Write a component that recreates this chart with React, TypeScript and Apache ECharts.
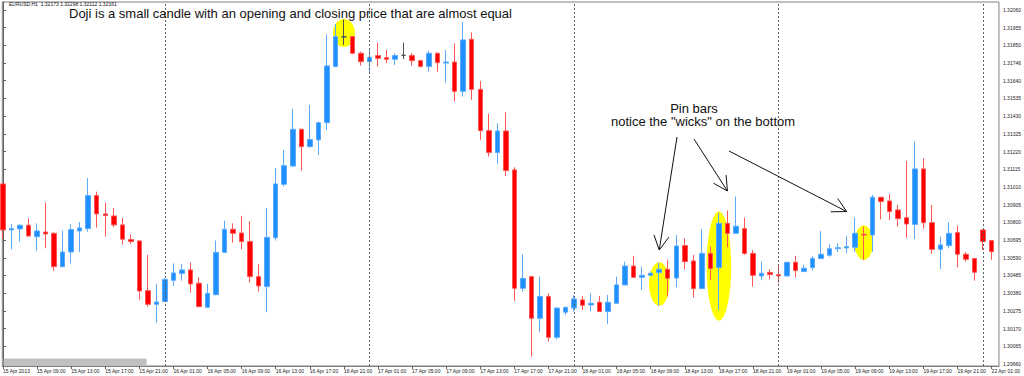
import React, { useEffect, useRef } from "react";
import * as echarts from "echarts";

// OHLC values (EURUSD, H1), one per hourly candle starting 15 Apr 05:00
const open = [
  1.31028, 1.30755, 1.30761, 1.30783, 1.30715, 1.30743, 1.30735, 1.30537, 1.30624, 1.30749,
  1.30763, 1.30959, 1.30850, 1.30838, 1.30785, 1.30698, 1.30690, 1.30395, 1.30314, 1.30330,
  1.30456, 1.30496, 1.30518, 1.30439, 1.30296, 1.30371, 1.30622, 1.30759, 1.30737, 1.30686,
  1.30478, 1.30419, 1.30709, 1.31026, 1.31134, 1.31352, 1.31249, 1.31289, 1.31391, 1.31724,
  1.31900, 1.31902, 1.31803, 1.31753, 1.31789, 1.31777, 1.31767, 1.31791, 1.31789, 1.31759,
  1.31724, 1.31803, 1.31745, 1.31751, 1.31577, 1.31886, 1.31589, 1.31344, 1.31214, 1.31342,
  1.31111, 1.30409, 1.30478, 1.30231, 1.30360, 1.30118, 1.30267, 1.30292, 1.30340, 1.30310,
  1.30326, 1.30271, 1.30320, 1.30429, 1.30541, 1.30474, 1.30486, 1.30502, 1.30522, 1.30470,
  1.30662, 1.30571, 1.30407, 1.30616, 1.30532, 1.30794, 1.30735, 1.30763, 1.30616, 1.30482,
  1.30502, 1.30490, 1.30482, 1.30563, 1.30508, 1.30532, 1.30585, 1.30605, 1.30644, 1.30648,
  1.30652, 1.30729, 1.30725, 1.30949, 1.30927, 1.30874, 1.30828, 1.30788, 1.31117, 1.30798,
  1.30640, 1.30662, 1.30739, 1.30611, 1.30585, 1.30755, 1.30692,
];
const close = [
  1.30755, 1.30763, 1.30783, 1.30719, 1.30749, 1.30731, 1.30537, 1.30624, 1.30757, 1.30767,
  1.30959, 1.30850, 1.30840, 1.30785, 1.30700, 1.30686, 1.30393, 1.30314, 1.30328, 1.30462,
  1.30500, 1.30518, 1.30435, 1.30300, 1.30379, 1.30622, 1.30759, 1.30735, 1.30686, 1.30478,
  1.30423, 1.30711, 1.31028, 1.31136, 1.31352, 1.31249, 1.31291, 1.31391, 1.31728, 1.31902,
  1.31900, 1.31803, 1.31753, 1.31779, 1.31773, 1.31767, 1.31789, 1.31791, 1.31759, 1.31724,
  1.31803, 1.31747, 1.31751, 1.31577, 1.31882, 1.31589, 1.31344, 1.31214, 1.31342, 1.31107,
  1.30409, 1.30468, 1.30231, 1.30360, 1.30118, 1.30292, 1.30296, 1.30346, 1.30308, 1.30320,
  1.30271, 1.30326, 1.30429, 1.30541, 1.30474, 1.30486, 1.30498, 1.30522, 1.30468, 1.30660,
  1.30567, 1.30407, 1.30616, 1.30526, 1.30794, 1.30735, 1.30777, 1.30616, 1.30486, 1.30498,
  1.30490, 1.30482, 1.30563, 1.30514, 1.30528, 1.30585, 1.30611, 1.30644, 1.30650, 1.30656,
  1.30735, 1.30725, 1.30949, 1.30923, 1.30864, 1.30822, 1.30790, 1.31117, 1.30798, 1.30640,
  1.30666, 1.30735, 1.30611, 1.30581, 1.30504, 1.30686, 1.30626,
];
const low = [
  1.30705, 1.30640, 1.30686, 1.30715, 1.30632, 1.30646, 1.30512, 1.30533, 1.30557, 1.30624,
  1.30745, 1.30769, 1.30715, 1.30771, 1.30668, 1.30670, 1.30340, 1.30300, 1.30205, 1.30328,
  1.30423, 1.30454, 1.30383, 1.30296, 1.30294, 1.30367, 1.30620, 1.30680, 1.30640, 1.30443,
  1.30389, 1.30267, 1.30692, 1.31012, 1.31130, 1.31107, 1.31245, 1.31200, 1.31348, 1.31720,
  1.31852, 1.31797, 1.31730, 1.31688, 1.31724, 1.31743, 1.31733, 1.31769, 1.31730, 1.31720,
  1.31694, 1.31694, 1.31629, 1.31516, 1.31546, 1.31526, 1.31289, 1.31190, 1.31146, 1.31075,
  1.30334, 1.30389, 1.30004, 1.30148, 1.30093, 1.30106, 1.30251, 1.30271, 1.30280, 1.30271,
  1.30268, 1.30197, 1.30318, 1.30427, 1.30472, 1.30399, 1.30480, 1.30304, 1.30360, 1.30415,
  1.30522, 1.30354, 1.30405, 1.30458, 1.30280, 1.30652, 1.30733, 1.30607, 1.30419, 1.30458,
  1.30462, 1.30439, 1.30480, 1.30474, 1.30506, 1.30514, 1.30583, 1.30597, 1.30624, 1.30616,
  1.30626, 1.30577, 1.30626, 1.30818, 1.30814, 1.30775, 1.30709, 1.30701, 1.30763, 1.30613,
  1.30522, 1.30646, 1.30533, 1.30567, 1.30454, 1.30636, 1.30577,
];
const high = [
  1.31035, 1.30790, 1.30788, 1.30824, 1.30794, 1.30917, 1.30741, 1.30751, 1.30790, 1.30802,
  1.31063, 1.30982, 1.30917, 1.30885, 1.30826, 1.30729, 1.30692, 1.30607, 1.30435, 1.30468,
  1.30557, 1.30553, 1.30563, 1.30474, 1.30435, 1.30692, 1.30810, 1.30794, 1.30838, 1.30806,
  1.30551, 1.30885, 1.31121, 1.31229, 1.31473, 1.31355, 1.31496, 1.31397, 1.31915, 1.31977,
  1.32004, 1.31905, 1.31813, 1.31826, 1.31866, 1.31822, 1.31803, 1.31866, 1.31803, 1.31763,
  1.31817, 1.31807, 1.31822, 1.31862, 1.31990, 1.31927, 1.31639, 1.31443, 1.31388, 1.31453,
  1.31127, 1.30611, 1.30480, 1.30478, 1.30379, 1.30295, 1.30299, 1.30369, 1.30363, 1.30379,
  1.30363, 1.30369, 1.30478, 1.30567, 1.30601, 1.30537, 1.30510, 1.30561, 1.30577, 1.30725,
  1.30705, 1.30607, 1.30759, 1.30656, 1.30854, 1.30870, 1.30953, 1.30828, 1.30636, 1.30567,
  1.30522, 1.30547, 1.30567, 1.30601, 1.30547, 1.30601, 1.30749, 1.30670, 1.30676, 1.30719,
  1.30830, 1.30775, 1.30963, 1.30951, 1.30968, 1.30903, 1.31164, 1.31279, 1.31180, 1.30903,
  1.30715, 1.30800, 1.30781, 1.30624, 1.30587, 1.30757, 1.30694,
];

// Time-axis ticks (candle index -> label)
const xTickIndex = [
  0, 4, 8, 12, 16, 20, 24, 28, 32, 36, 40, 44, 48, 52, 56, 60, 64, 68, 72, 76,
  80, 84, 88, 92, 96, 100, 104, 108, 112, 116,
];
const xTickLabels = [
  "15 Apr 2013", "15 Apr 09:00", "15 Apr 13:00", "15 Apr 17:00", "15 Apr 21:00",
  "16 Apr 01:00", "16 Apr 05:00", "16 Apr 09:00", "16 Apr 13:00", "16 Apr 17:00",
  "16 Apr 21:00", "17 Apr 01:00", "17 Apr 05:00", "17 Apr 09:00", "17 Apr 13:00",
  "17 Apr 17:00", "17 Apr 21:00", "18 Apr 01:00", "18 Apr 05:00", "18 Apr 09:00",
  "18 Apr 13:00", "18 Apr 17:00", "18 Apr 21:00", "19 Apr 01:00", "19 Apr 05:00",
  "19 Apr 09:00", "19 Apr 13:00", "19 Apr 17:00", "19 Apr 21:00", "22 Apr 01:00",
];
// Day separators (candle index of 00:00)
const daySeparators = [19, 43, 67, 91, 115];

// Price-axis ticks
const yTickValues = [
  1.2996, 1.30065, 1.3017, 1.30275, 1.3038, 1.30485, 1.3059, 1.30695, 1.308, 1.30905,
  1.3101, 1.31115, 1.3122, 1.31325, 1.3143, 1.31535, 1.3164, 1.31745, 1.3185, 1.31955, 1.3206,
];
const yTickLabels = [
  "1.29960", "1.30065", "1.30170", "1.30275", "1.30380", "1.30485", "1.30590", "1.30695",
  "1.30800", "1.30905", "1.31010", "1.31115", "1.31220", "1.31325", "1.31430", "1.31535",
  "1.31640", "1.31746", "1.31850", "1.31955", "1.32060",
];

// Annotations anchored on candles
const highlights = [
  { index: 40, top: 1.32006, bottom: 1.3184, half: 1.29 },
  { index: 77, top: 1.30563, bottom: 1.30306, half: 1.2 },
  { index: 84, top: 1.30864, bottom: 1.30217, half: 1.44 },
  { index: 101, top: 1.30781, bottom: 1.30577, half: 1.09 },
];
const arrows = [
  { from: [677, 137], index: 77, price: 1.30636 },
  { from: [694, 139], index: 85, price: 1.30986 },
  { from: [729, 151], index: 99, price: 1.30864 },
];

const FONT = '"Liberation Sans", Arial, sans-serif';

export default function App() {
  const ref = useRef<HTMLDivElement>(null);
  useEffect(() => {
    if (!ref.current) return;
    const chart = echarts.init(ref.current, undefined, { renderer: "svg" });
    const data = open.map((o, i) => [i, o, close[i], low[i], high[i]]);
    chart.setOption({
      animation: false,
      backgroundColor: "#ffffff",
      grid: {
        left: 2,
        right: 23,
        top: 2,
        bottom: 10,
        show: true,
        borderColor: "#808080",
        borderWidth: 1,
      },
      xAxis: {
        type: "value",
        min: -0.082,
        max: 116.86,
        axisLine: { show: true, lineStyle: { color: "#808080" } },
        splitLine: { show: false },
        axisTick: { show: true, customValues: xTickIndex, length: 3, lineStyle: { color: "#606060" } },
        axisLabel: {
          customValues: xTickIndex,
          formatter: (v: number) => {
            const k = xTickIndex.indexOf(Math.round(v));
            return k >= 0 ? xTickLabels[k] : "";
          },
          align: "left",
          fontSize: 5,
          color: "#222",
          margin: 2,
          fontFamily: FONT,
        },
      },
      yAxis: {
        type: "value",
        position: "right",
        min: 1.29948,
        max: 1.32107,
        scale: true,
        axisLine: { show: true, lineStyle: { color: "#606060" } },
        splitLine: { show: false },
        axisTick: { show: true, customValues: yTickValues, length: 3, lineStyle: { color: "#606060" } },
        axisLabel: {
          customValues: yTickValues,
          formatter: (v: number) => {
            let best = 0;
            yTickValues.forEach((t, k) => {
              if (Math.abs(t - v) < Math.abs(yTickValues[best] - v)) best = k;
            });
            return yTickLabels[best];
          },
          fontSize: 5,
          color: "#222",
          margin: 4,
          fontFamily: FONT,
        },
      },
      series: [
        {
          type: "candlestick",
          data,
          barWidth: 5,
          z: 2,
          itemStyle: {
            color: "#1e90ff",
            color0: "#ff0000",
            borderColor: "#5aaaff",
            borderColor0: "#ff5555",
            borderColorDoji: "#505050",
            borderWidth: 1,
          },
          emphasis: { disabled: true },
          markLine: {
            silent: true,
            symbol: ["none", "none"],
            label: { show: false },
            lineStyle: { color: "#606060", type: [2, 2], width: 1 },
            emphasis: { disabled: true },
            data: daySeparators.map((i) => ({ xAxis: i })),
          },
        },
      ],
    });

    const px = (i: number, p: number) =>
      chart.convertToPixel({ gridIndex: 0 }, [i, p]) as number[];

    const els: any[] = [];
    highlights.forEach((h) => {
      const t = px(h.index, h.top);
      const b = px(h.index, h.bottom);
      const l = px(h.index - h.half, h.top);
      els.push({
        type: "ellipse",
        z: 0,
        silent: true,
        shape: { cx: t[0], cy: (t[1] + b[1]) / 2, rx: t[0] - l[0], ry: (b[1] - t[1]) / 2 },
        style: { fill: "#ffff00" },
      });
    });
    const line = (x1: number, y1: number, x2: number, y2: number) => ({
      type: "line",
      z: 50,
      silent: true,
      shape: { x1, y1, x2, y2 },
      style: { stroke: "#111", lineWidth: 1 },
    });
    arrows.forEach((a) => {
      const tip = px(a.index, a.price);
      const [x1, y1] = a.from;
      const ang = Math.atan2(y1 - tip[1], x1 - tip[0]);
      const L = 16;
      const da = (28 * Math.PI) / 180;
      els.push(line(x1, y1, tip[0], tip[1]));
      els.push(line(tip[0], tip[1], tip[0] + L * Math.cos(ang + da), tip[1] + L * Math.sin(ang + da)));
      els.push(line(tip[0], tip[1], tip[0] + L * Math.cos(ang - da), tip[1] + L * Math.sin(ang - da)));
    });
    const text = (t: string, x: number, y: number, size: number, lh: number, align: string) => ({
      type: "text",
      z: 60,
      silent: true,
      x,
      y,
      style: {
        text: t,
        fill: "#111",
        fontSize: size,
        lineHeight: lh,
        fontFamily: FONT,
        align,
        verticalAlign: "middle",
      },
    });
    els.push(text("EURUSD,H1  1.32173 1.32298 1.32112 1.32161", 9, 3.6, 5, 5, "left"));
    els.push(text("Doji is a small candle with an opening and closing price that are almost equal", 69, 13.6, 13, 11, "left"));
    els.push(text("Pin bars", 694, 108.5, 13, 11, "center"));
    els.push(text('notice the "wicks" on the bottom', 703, 121.5, 13, 11, "center"));
    els.push({
      type: "rect",
      z: 60,
      silent: true,
      shape: { x: 3.5, y: 358.5, width: 143, height: 7 },
      style: { fill: "#c0c0c0" },
    });
    chart.setOption({ graphic: els });

    return () => chart.dispose();
  }, []);
  return (
    <div
      ref={ref}
      style={{ position: "fixed", left: 0, top: 0, width: 1024, height: 376, background: "#fff" }}
    />
  );
}
